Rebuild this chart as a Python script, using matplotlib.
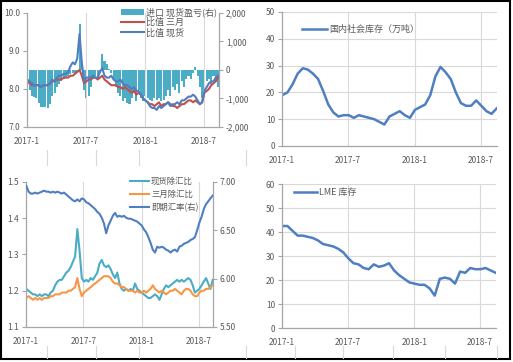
import pandas as pd
import matplotlib
matplotlib.use("Agg")
import matplotlib.pyplot as plt
from matplotlib.lines import Line2D
from matplotlib.patches import Rectangle
from matplotlib.ticker import FuncFormatter

plt.rcParams['font.family'] = ['Noto Sans CJK SC', 'DejaVu Sans']
plt.rcParams['axes.unicode_minus'] = False

# ---- data (weekly for the ratio charts, every two weeks for the stocks) ----
wk = pd.date_range("2017-01-02", periods=85, freq="7D")
bw = pd.date_range("2017-01-02", periods=43, freq="14D")

ratio_3m = [8.2, 8.15, 8.1, 8.1,
            8.1, 8.1, 8.05, 8.1, 8.1, 8.1, 8.15,
            8.2, 8.2, 8.25, 8.25, 8.25,
            8.3, 8.3, 8.3, 8.35, 8.35,
            8.4, 8.45, 8.5, 8.35,
            8.15, 8.2,
            8.25, 8.25, 8.3, 8.3, 8.25, 8.3, 8.35,
            8.25, 8.2, 8.15, 8.1, 8.1, 8.1, 8.05,
            8.05, 8.0, 8.05, 8.0, 7.95,
            7.9, 7.95, 7.85, 7.9, 7.85,
            7.75, 7.7, 7.65, 7.6, 7.6,
            7.55, 7.6, 7.65, 7.55, 7.6,
            7.6, 7.65, 7.6, 7.55, 7.55,
            7.5, 7.55, 7.6, 7.6, 7.65,
            7.7, 7.7, 7.65, 7.7, 7.65,
            7.6, 7.65, 7.9,
            7.95, 8.0, 8.1, 8.15, 8.2, 8.3]

ratio_spot = [8.25, 8.2, 8.15, 8.1,
              8.1, 8.1, 8.05, 8.1, 8.1, 8.1, 8.15,
              8.25, 8.2, 8.3, 8.35, 8.35,
              8.4, 8.4, 8.45, 8.6, 8.7,
              8.65, 8.8, 9.45, 8.7,
              8.2, 8.3,
              8.3, 8.3, 8.35, 8.3, 8.3, 8.45, 8.55,
              8.35, 8.3, 8.3, 8.35, 8.25, 8.2, 8.2,
              8.25, 8.15, 8.1, 8.1, 8.05,
              8.0, 8.05, 7.95, 7.95, 7.85,
              7.75, 7.7, 7.65, 7.55, 7.5,
              7.5, 7.45, 7.55, 7.5, 7.55,
              7.6, 7.65, 7.55, 7.6, 7.6,
              7.65, 7.6, 7.7, 7.7, 7.75,
              7.8, 7.8, 7.85, 7.8, 7.7,
              7.6, 7.65, 7.95,
              8.05, 8.15, 8.2, 8.2, 8.3, 8.35]

import_pl = [-500, -700, -900, -950,
             -1000, -1150, -1300, -1300, -1300, -1350, -1200,
             -900, -800, -600, -500, -400,
             -300, -250, -200, -150, -100,
             -150, -100, 1600, 200,
             -700, -1000,
             -900, -600, -300, -200, -300, -100, 550,
             300, 200, 50, -100, -300, -600, -800,
             -900, -1100, -1000, -1150, -1200,
             -1000, -800, -1100, -700, -1000,
             -1100, -900, -1000, -1050, -1100,
             -1000, -1050, -1000, -1100, -1050,
             -900, -700, -900, -600, -700,
             -500, -800, -400, -600, -300,
             -200, -300, -100, 100, -200,
             -600, -1000, -700,
             -400, -300, -500, -200, -400, -600]

dom_stock = [19, 20, 23, 27, 29, 28.5, 27, 25, 20.5, 15.5,
             12.5, 11, 11.5, 11.5, 10.5, 11.5, 11, 10.5, 10, 9,
             8, 11, 12, 13, 11.5, 10.5, 13.5, 14.5, 15.5, 19,
             26, 29.5, 27.5, 25, 20, 16, 15, 15, 17, 15,
             13, 12, 14]

lme_stock = [42.5, 42.5, 40.5, 38.5, 38.5, 38, 37.5, 36.5, 35, 34.5,
             34, 33, 31.5, 29, 27, 26.5, 25, 24.5, 26.5, 25.5,
             26, 27, 24, 22, 20.5, 19, 18.5, 18, 18, 16.5,
             13.5, 20.5, 21, 20.5, 18.5, 23.5, 23, 25, 24.5, 24.5,
             25, 24, 23]

spot_fx_ratio = [1.205, 1.20, 1.195, 1.19, 1.19, 1.185, 1.19, 1.185, 1.19, 1.19,
                 1.185, 1.195, 1.20, 1.215, 1.225, 1.23, 1.23, 1.24, 1.25, 1.255,
                 1.265, 1.28, 1.295, 1.37, 1.31, 1.235, 1.225, 1.23, 1.225, 1.235,
                 1.23, 1.24, 1.25, 1.275, 1.285, 1.27, 1.265, 1.27, 1.26, 1.245,
                 1.235, 1.25, 1.22, 1.205, 1.20, 1.205, 1.20, 1.205, 1.20, 1.22,
                 1.205, 1.20, 1.195, 1.19, 1.185, 1.18, 1.18, 1.185, 1.19, 1.185,
                 1.175, 1.19, 1.205, 1.215, 1.21, 1.215, 1.22, 1.225, 1.23, 1.225,
                 1.23, 1.225, 1.23, 1.235, 1.23, 1.215, 1.195, 1.20, 1.205, 1.215,
                 1.225, 1.235, 1.22, 1.205, 1.23]

m3_fx_ratio = [1.18, 1.185, 1.18, 1.175, 1.18, 1.175, 1.18, 1.175, 1.18, 1.18,
               1.18, 1.185, 1.185, 1.19, 1.19, 1.19, 1.195, 1.195, 1.195, 1.20,
               1.20, 1.205, 1.21, 1.235, 1.205, 1.185, 1.195, 1.20, 1.205, 1.21,
               1.215, 1.22, 1.225, 1.23, 1.235, 1.24, 1.24, 1.24, 1.235, 1.225,
               1.22, 1.22, 1.215, 1.21, 1.21, 1.205, 1.20, 1.20, 1.20, 1.195,
               1.20, 1.195, 1.195, 1.20, 1.195, 1.20, 1.205, 1.215, 1.205, 1.20,
               1.195, 1.20, 1.195, 1.19, 1.195, 1.20, 1.20, 1.205, 1.20, 1.195,
               1.19, 1.20, 1.205, 1.205, 1.20, 1.19, 1.185, 1.185, 1.195, 1.20,
               1.20, 1.205, 1.205, 1.21, 1.215]

usdcny = [6.96, 6.90, 6.88, 6.88, 6.89, 6.88, 6.89, 6.90, 6.91, 6.90,
          6.90, 6.89, 6.90, 6.89, 6.90, 6.89, 6.88, 6.89, 6.87, 6.85,
          6.83, 6.81, 6.80, 6.82, 6.80, 6.83, 6.82, 6.79, 6.78, 6.76,
          6.74, 6.72, 6.69, 6.67, 6.63, 6.57, 6.47, 6.55, 6.60, 6.65,
          6.68, 6.64, 6.65, 6.64, 6.65, 6.63, 6.62, 6.62, 6.61, 6.60,
          6.59, 6.57, 6.55, 6.51, 6.48, 6.43, 6.37, 6.30, 6.27, 6.33,
          6.32, 6.33, 6.32, 6.30, 6.29, 6.27, 6.29, 6.30, 6.28, 6.33,
          6.34, 6.36, 6.37, 6.38, 6.40, 6.41, 6.43, 6.50, 6.58, 6.64,
          6.72, 6.77, 6.80, 6.83, 6.86]

date_ticks = pd.to_datetime(["2017-01-01", "2017-07-01", "2018-01-01", "2018-07-01"])
date_labels = ["2017-1", "2017-7", "2018-1", "2018-7"]

TXT = "#595959"
AXC = "#A6A6A6"
GRID = "#D9D9D9"
BLUE = "#4F7EC1"
RED = "#C0504D"
TEAL = "#4BACC6"
ORANGE = "#F79646"
FS = 6


def style(ax, ylim, yticks, fmt, hgrid, xend):
    ax.set_xlim(pd.Timestamp("2017-01-01"), pd.Timestamp(xend))
    ax.set_xticks(date_ticks)
    ax.set_xticklabels(date_labels)
    ax.set_ylim(*ylim)
    ax.set_yticks(yticks)
    ax.yaxis.set_major_formatter(FuncFormatter(fmt))
    ax.tick_params(axis="x", length=0, pad=7, labelsize=FS, colors=TXT)
    ax.tick_params(axis="y", length=3, width=0.8, pad=2, labelsize=FS,
                   colors=TXT, color=AXC)
    for s in ["top", "right"]:
        ax.spines[s].set_visible(False)
    for s in ["left", "bottom"]:
        ax.spines[s].set_color(AXC)
        ax.spines[s].set_linewidth(0.9)
    ax.grid(True, axis="x", color=GRID, lw=0.8)
    if hgrid:
        ax.grid(True, axis="y", color=GRID, lw=0.8)
    ax.set_axisbelow(True)


def right_style(ax2, ylim, yticks, fmt):
    ax2.set_ylim(*ylim)
    ax2.set_yticks(yticks)
    ax2.yaxis.set_major_formatter(FuncFormatter(fmt))
    ax2.tick_params(axis="y", length=3, width=0.8, pad=2, labelsize=FS,
                    colors=TXT, color=AXC)
    for s in ["top", "left", "bottom"]:
        ax2.spines[s].set_visible(False)
    ax2.spines["right"].set_color(AXC)
    ax2.spines["right"].set_linewidth(0.9)


fig = plt.figure(figsize=(5.13, 3.62), dpi=100)

# ---- top left: SHFE/LME ratios and import profit ----
ax1 = fig.add_axes([0.0526, 0.6492, 0.3743, 0.3149])
ax1b = ax1.twinx()
ax1b.bar(wk, import_pl, width=6.3, color=TEAL, label="进口 现货盈亏(右)")
l_3m, = ax1.plot(wk, ratio_3m, color=RED, lw=1.5, label="比值 三月")
l_sp, = ax1.plot(wk, ratio_spot, color=BLUE, lw=1.5, label="比值 现货")
ax1.set_zorder(ax1b.get_zorder() + 1)
ax1.patch.set_visible(False)
style(ax1, (7, 10), [7, 8, 9, 10], lambda v, p: f"{v:.1f}", False, "2018-08-16")
right_style(ax1b, (-2000, 2000), [-2000, -1000, 0, 1000, 2000],
            lambda v, p: f"{v:,.0f}")
h_bar = ax1b.containers[0]
ax1.legend([h_bar, l_3m, l_sp], ["进口 现货盈亏(右)", "比值 三月", "比值 现货"],
           loc="upper left", bbox_to_anchor=(0.225, 0.995), bbox_transform=fig.transFigure,
           frameon=False, fontsize=6.5, handlelength=2.6, handleheight=0.6,
           handletextpad=0.2, labelspacing=0.1, borderpad=0.1,
           labelcolor=TXT)

# ---- top right: domestic stocks ----
ax2 = fig.add_axes([0.5497, 0.5967, 0.4191, 0.3702])
ax2.plot(bw, dom_stock, color=BLUE, lw=1.8, label="国内社会库存（万吨）")
style(ax2, (0, 50), range(0, 51, 10), lambda v, p: f"{v:.0f}", True, "2018-08-14")
ax2.legend(loc="upper left", bbox_to_anchor=(0.578, 0.945), bbox_transform=fig.transFigure,
           frameon=False, fontsize=6.5, handlelength=2.8, handletextpad=0.2,
           borderpad=0.1, labelcolor=TXT)

# ---- bottom left: ratios ex FX and USDCNY ----
ax3 = fig.add_axes([0.0507, 0.0967, 0.3645, 0.4006])
ax3b = ax3.twinx()
l_a, = ax3.plot(wk, spot_fx_ratio, color=TEAL, lw=1.5)
l_b, = ax3.plot(wk, m3_fx_ratio, color=ORANGE, lw=1.5)
l_c, = ax3b.plot(wk, usdcny, color=BLUE, lw=1.5)
style(ax3, (1.1, 1.5), [1.1, 1.2, 1.3, 1.4, 1.5], lambda v, p: f"{v:.1f}", False, "2018-08-14")
right_style(ax3b, (5.5, 7.0), [5.5, 6.0, 6.5, 7.0], lambda v, p: f"{v:.2f}")
ax3.legend([l_a, l_b, l_c], ["现货除汇比", "三月除汇比", "即期汇率(右)"],
           loc="upper left", bbox_to_anchor=(0.244, 0.525), bbox_transform=fig.transFigure,
           frameon=False, fontsize=6.0, handlelength=2.3, handletextpad=0.2,
           labelspacing=0.5, borderpad=0.1, labelcolor=TXT)

# ---- bottom right: LME stocks ----
ax4 = fig.add_axes([0.5497, 0.0939, 0.4172, 0.3978])
ax4.plot(bw, lme_stock, color=BLUE, lw=1.8, label="LME 库存")
style(ax4, (0, 60), range(0, 61, 10), lambda v, p: f"{v:.0f}", True, "2018-08-14")
ax4.legend(loc="upper left", bbox_to_anchor=(0.562, 0.495), bbox_transform=fig.transFigure,
           frameon=False, fontsize=6.5, handlelength=2.6, handletextpad=0.2,
           borderpad=0.1, labelcolor=TXT)

# faint sheet cell borders and outer frame
for x in [47, 96, 139, 246]:
    fig.add_artist(Line2D([x / 513, x / 513], [1 - 165 / 362, 1 - 150 / 362],
                          transform=fig.transFigure, color=GRID, lw=0.8))
for x in [47, 96, 139, 246, 295, 343, 393, 445, 497]:
    fig.add_artist(Line2D([x / 513, x / 513], [1 - 358 / 362, 1 - 346 / 362],
                          transform=fig.transFigure, color=GRID, lw=0.8))
fig.add_artist(Rectangle((0.002, 0.009), 0.993, 0.988, transform=fig.transFigure,
                         fill=False, ec="black", lw=1.5))

fig.savefig("out.png", dpi=100)
